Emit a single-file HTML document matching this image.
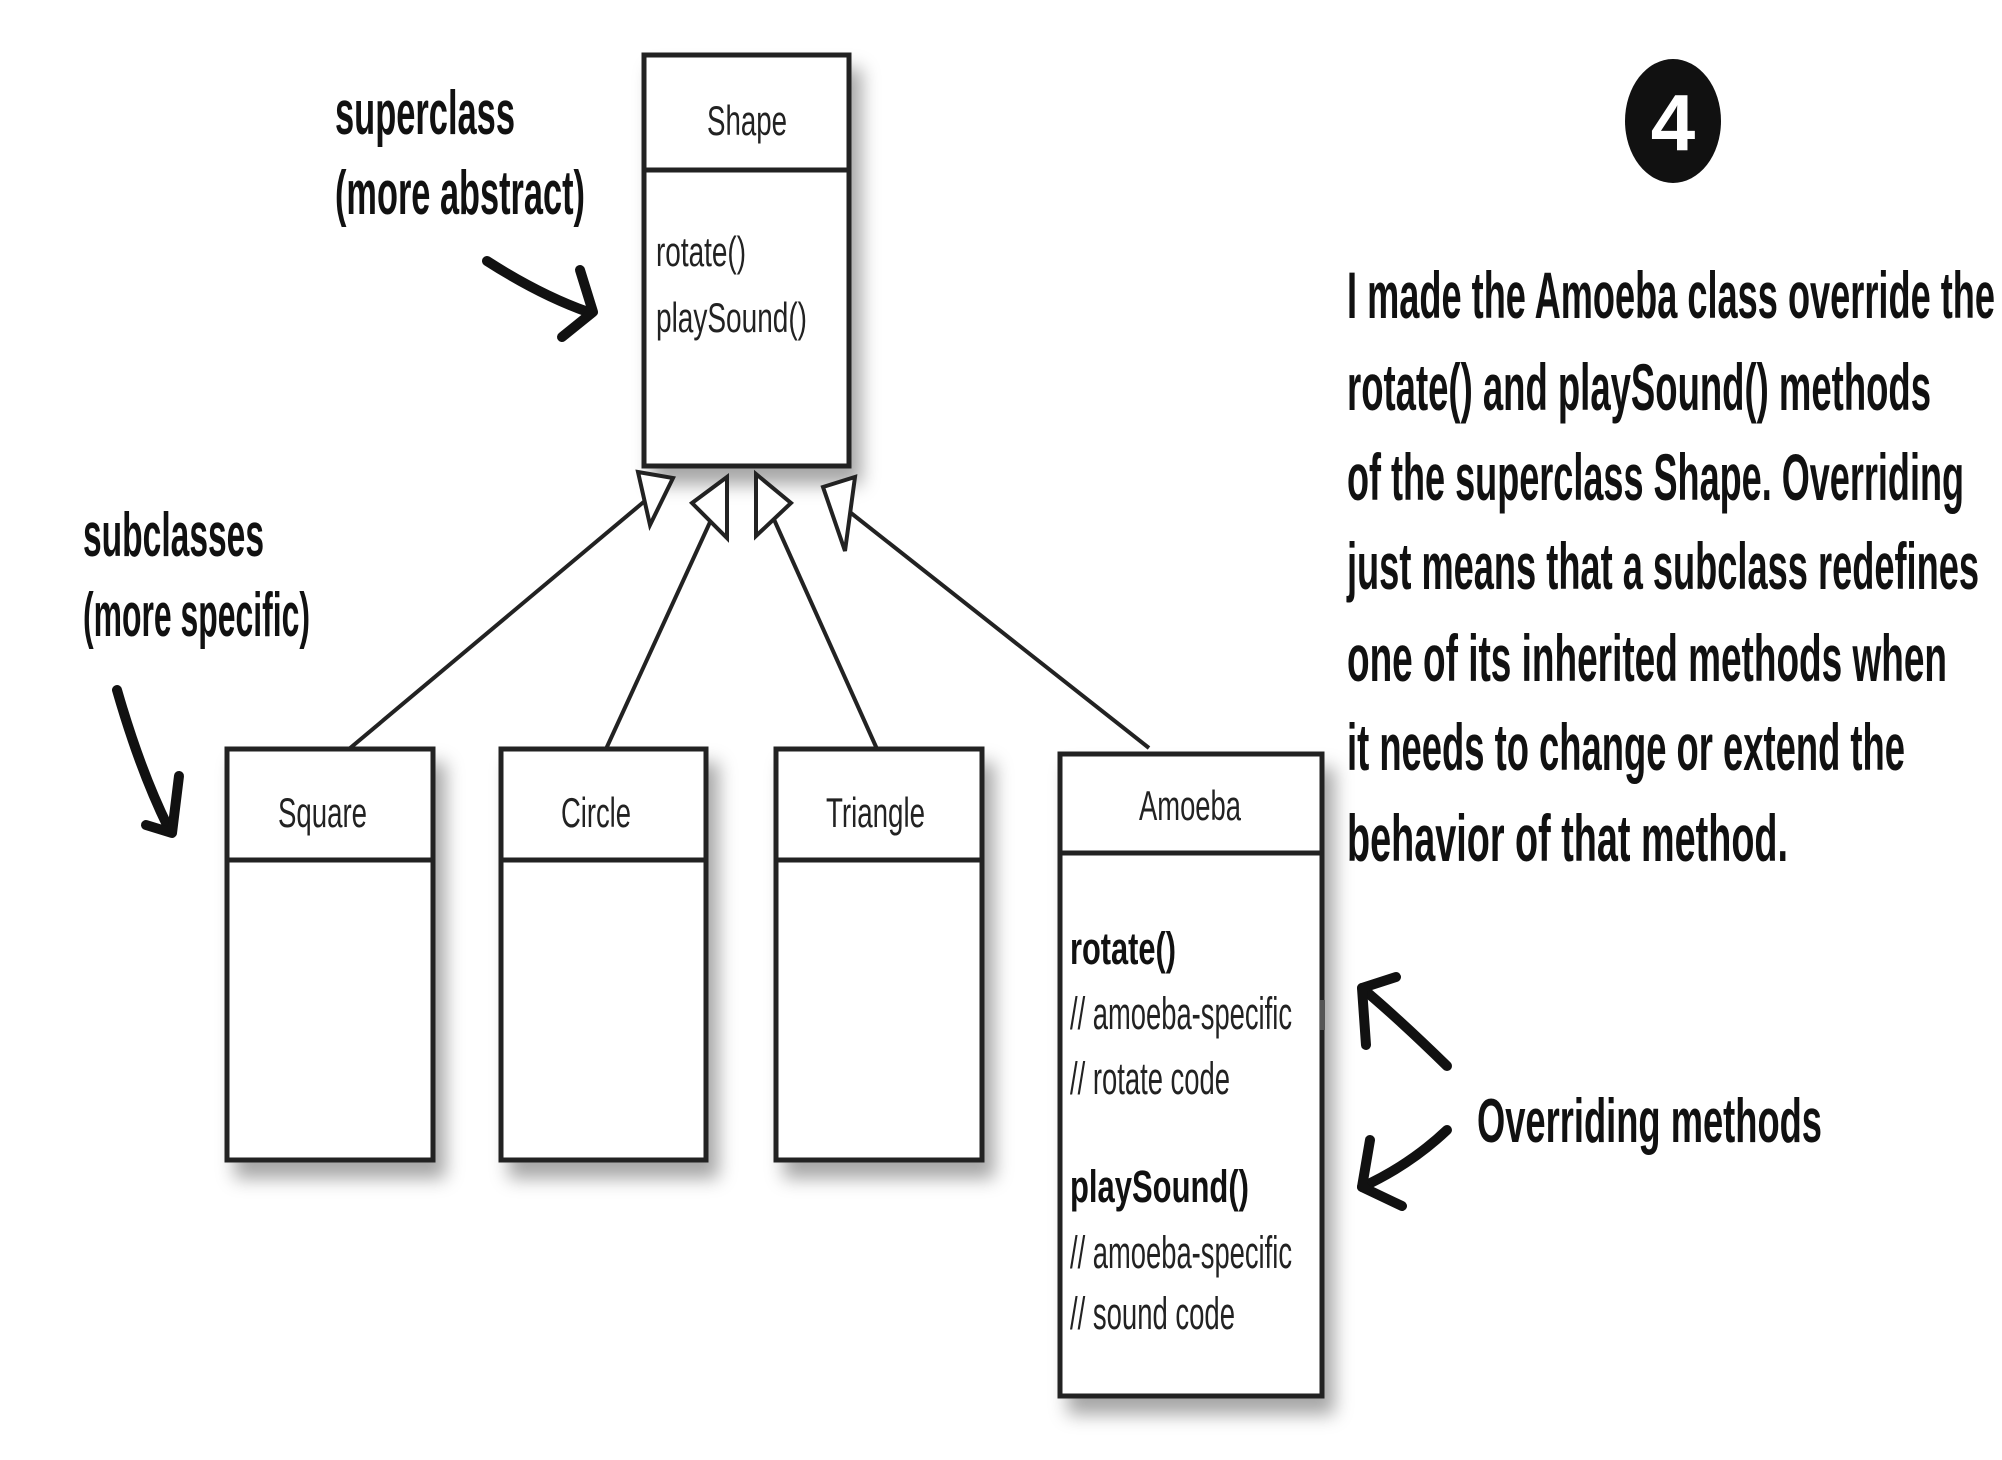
<!DOCTYPE html>
<html><head><meta charset="utf-8"><style>
html,body{margin:0;padding:0;background:#fff;}
svg{display:block;}
.u{font-family:"Liberation Sans",sans-serif;fill:#222;}
.h{font-family:"Liberation Sans",sans-serif;font-weight:bold;fill:#111;}
</style></head><body>
<svg width="2002" height="1460" viewBox="0 0 2002 1460" xmlns="http://www.w3.org/2000/svg">
<defs>
<filter id="sh" x="-20%" y="-20%" width="150%" height="150%">
<feDropShadow dx="10" dy="16" stdDeviation="9" flood-color="#000" flood-opacity="0.35"/>
</filter>
</defs>
<g fill="#fff" stroke="#222" stroke-width="5">
<rect x="644" y="55" width="205" height="411" filter="url(#sh)"/>
<rect x="227" y="749" width="206" height="411" filter="url(#sh)"/>
<rect x="501" y="749" width="205" height="411" filter="url(#sh)"/>
<rect x="776" y="749" width="206" height="411" filter="url(#sh)"/>
<rect x="1060" y="754" width="262" height="642" filter="url(#sh)"/>
</g>
<g stroke="#222" stroke-width="5">
<line x1="644" y1="170" x2="849" y2="170"/>
<line x1="227" y1="860" x2="433" y2="860"/>
<line x1="501" y1="860" x2="706" y2="860"/>
<line x1="776" y1="860" x2="982" y2="860"/>
<line x1="1060" y1="853" x2="1322" y2="853"/>
</g>
<g stroke="#222" stroke-width="4" fill="none">
<line x1="349" y1="749" x2="646" y2="500"/>
<line x1="606" y1="749" x2="711" y2="520"/>
<line x1="877" y1="749" x2="772" y2="515"/>
<line x1="1149" y1="748" x2="851" y2="513"/>
</g>
<g stroke="#222" stroke-width="4" fill="#fff" stroke-linejoin="miter">
<polygon points="638,472 673,478 650,525"/>
<polygon points="727,477 727,538 692,503"/>
<polygon points="756,474 791,503 756,536"/>
<polygon points="823,487 855,477 845,551"/>
</g>
<g class="u" font-size="42">
<text x="707" y="135" textLength="80" lengthAdjust="spacingAndGlyphs">Shape</text>
<text x="656" y="266" textLength="90" lengthAdjust="spacingAndGlyphs">rotate()</text>
<text x="656" y="332" textLength="151" lengthAdjust="spacingAndGlyphs">playSound()</text>
<text x="278" y="827" textLength="89" lengthAdjust="spacingAndGlyphs">Square</text>
<text x="561" y="827" textLength="70" lengthAdjust="spacingAndGlyphs">Circle</text>
<text x="826" y="827" textLength="99" lengthAdjust="spacingAndGlyphs">Triangle</text>
<text x="1139" y="820" textLength="102" lengthAdjust="spacingAndGlyphs">Amoeba</text>
</g>
<g class="u" font-size="45">
<text x="1070" y="964" font-weight="bold" fill="#111" textLength="106" lengthAdjust="spacingAndGlyphs">rotate()</text>
<text x="1070" y="1029" textLength="222" lengthAdjust="spacingAndGlyphs">// amoeba-specific</text>
<text x="1070" y="1094" textLength="160" lengthAdjust="spacingAndGlyphs">// rotate code</text>
<text x="1070" y="1202" font-weight="bold" fill="#111" textLength="179" lengthAdjust="spacingAndGlyphs">playSound()</text>
<text x="1070" y="1268" textLength="222" lengthAdjust="spacingAndGlyphs">// amoeba-specific</text>
<text x="1070" y="1329" textLength="165" lengthAdjust="spacingAndGlyphs">// sound code</text>
</g>
<rect x="1320" y="1000" width="5" height="30" fill="#555"/>
<ellipse cx="1673" cy="121" rx="48" ry="62" fill="#111"/>
<text x="1673" y="150" text-anchor="middle" font-family="Liberation Sans,sans-serif" font-weight="bold" font-size="80" fill="#fff">4</text>
<g class="h" font-size="66">
<text x="1347" y="318" textLength="648" lengthAdjust="spacingAndGlyphs">I made the Amoeba class override the</text>
<text x="1347" y="410" textLength="584" lengthAdjust="spacingAndGlyphs">rotate() and playSound() methods</text>
<text x="1347" y="500" textLength="617" lengthAdjust="spacingAndGlyphs">of the superclass Shape. Overriding</text>
<text x="1347" y="589" textLength="632" lengthAdjust="spacingAndGlyphs">just means that a subclass redefines</text>
<text x="1347" y="681" textLength="600" lengthAdjust="spacingAndGlyphs">one of its inherited methods when</text>
<text x="1347" y="770" textLength="558" lengthAdjust="spacingAndGlyphs">it needs to change or extend the</text>
<text x="1347" y="861" textLength="441" lengthAdjust="spacingAndGlyphs">behavior of that method.</text>
</g>
<g class="h" font-size="62">
<text x="335" y="134" textLength="180" lengthAdjust="spacingAndGlyphs">superclass</text>
<text x="335" y="214" textLength="250" lengthAdjust="spacingAndGlyphs">(more abstract)</text>
<text x="83" y="556" textLength="181" lengthAdjust="spacingAndGlyphs">subclasses</text>
<text x="83" y="636" textLength="227" lengthAdjust="spacingAndGlyphs">(more specific)</text>
<text x="1477" y="1142" textLength="345" lengthAdjust="spacingAndGlyphs">Overriding methods</text>
</g>
<g stroke="#111" stroke-width="10" fill="none" stroke-linecap="round" stroke-linejoin="round">
<path d="M487,261 Q540,295 588,312"/>
<path d="M562,337 L593,312 L580,270"/>
<path d="M117,690 Q140,770 168,827"/>
<path d="M146,825 L172,833 L179,776"/>
<path d="M1447,1066 Q1400,1020 1362,988"/>
<path d="M1366,1045 L1362,988 L1396,977"/>
<path d="M1447,1130 Q1410,1165 1362,1187"/>
<path d="M1370,1140 L1362,1187 L1402,1206"/>
</g>
</svg>
</body></html>
